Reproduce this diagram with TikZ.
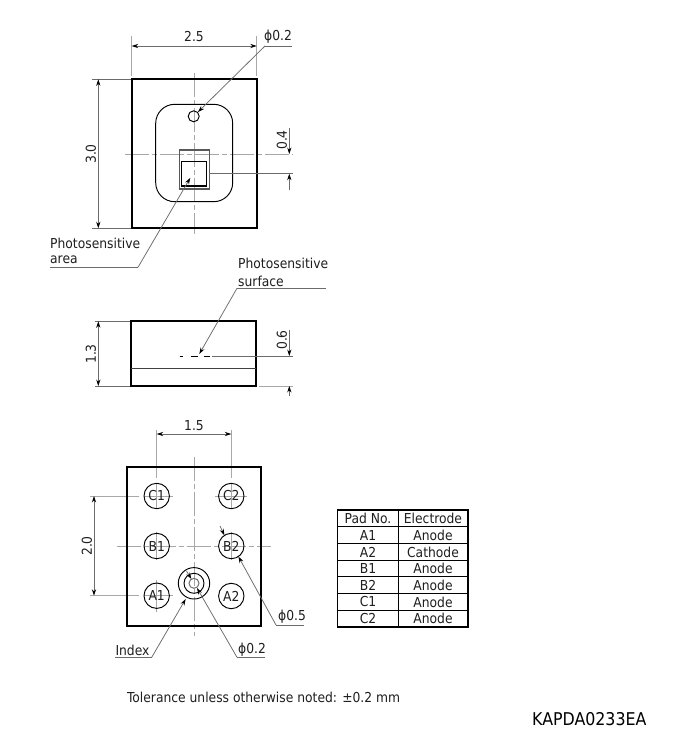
\documentclass[tikz,border=0pt]{standalone}
\usepackage{fontspec}
\setmainfont{DejaVu Sans Condensed}
\usetikzlibrary{arrows.meta}
\definecolor{dimgray}{gray}{0.42}
\definecolor{clgray}{gray}{0.66}
\tikzset{
  body/.style={line width=2pt,black},
  thinline/.style={line width=0.95pt,black},
  dimline/.style={line width=0.75pt,dimgray},
  leader/.style={line width=0.75pt,dimgray,-{Stealth[length=6.5pt,width=4.2pt,black]}},
  dimarrows/.style={line width=0.75pt,dimgray,{Stealth[length=6.5pt,width=4.2pt,black]}-{Stealth[length=6.5pt,width=4.2pt,black]}},
  centerline/.style={line width=1pt,clgray,dash pattern=on 24pt off 3pt on 5pt off 3pt},
  label/.style={font=\fontsize{13.7}{15}\selectfont,text=black!88,inner sep=0pt},
  labelleft/.style={label,anchor=west},
  vlabel/.style={label,rotate=90},
  padlabel/.style={label},
  pad/.style={thinline,circle,minimum size=25.4pt,inner sep=0pt,draw},
  cell/.style={label}
}
\begin{document}
\begin{tikzpicture}[x=1pt,y=-1pt]
\useasboundingbox (0,0) rectangle (675,744);
\fill[white] (0,0) rectangle (675,744);

%% ---------- Top view ----------
\coordinate (tTL) at (131.7,79.3); \coordinate (tBR) at (256.7,228.3);
\draw[centerline] (125,154) -- (293,154);
\draw[centerline] (194,73) -- (194,234);
\draw[body] (tTL) rectangle (tBR);
\draw[thinline,rounded corners=19pt] (155.7,104.3) rectangle (232.7,201.7);
\node[thinline,circle,draw,minimum size=11pt,inner sep=0pt] (lens) at (193.7,116.3) {};
\draw[line width=1.3pt,black!65] (179.3,150) rectangle (209.3,189);
\draw[line width=1.2pt,black] (181.7,161.3) rectangle (206.7,186);
\coordinate (chipR) at (209.3,173.7);

% dim 2.5
\draw[dimline,clgray] (131.7,36) -- (131.7,76);
\draw[dimline,clgray] (256.7,36) -- (256.7,76);
\draw[dimarrows] (131.7,46) -- (256.7,46);
\node[label] (d25) at (194,37) {2.5};
% phi 0.2
\node[label] (phiA) at (278,37) {ϕ0.2};
\coordinate (phiAa) at (265,46);
\draw[dimline] (phiAa) -- (292,46);
\draw[leader] (phiAa) -- (lens.north east);
% dim 3.0
\draw[dimline] (92,79.3) -- (131,79.3);
\draw[dimline] (92,228.3) -- (131,228.3);
\draw[dimarrows] (98.3,79.3) -- (98.3,228.3);
\node[vlabel] (d30) at (91,154) {3.0};
% dim 0.4
\draw[dimline] (chipR) -- (293,173.7);
\draw[leader] (289.3,128) -- (289.3,154);
\draw[leader] (289.3,190) -- (289.3,173.7);
\node[vlabel] (d04) at (282,140) {0.4};
% photosensitive area
\node[labelleft] (pa1) at (50,243) {Photosensitive};
\node[labelleft] (pa2) at (50,260) {area};
\coordinate (paa) at (138,267.3);
\draw[dimline] (50,267.3) -- (paa);
\draw[leader] (paa) -- (190.3,177.8);

%% ---------- Side view ----------
\draw[body] (131.3,321.3) rectangle (256,386);
\draw[line width=1.1pt,black!75] (131.3,368.3) -- (256,368.3);
\draw[line width=1pt,black] (179.5,356) -- (182.7,356);
\draw[line width=1pt,black] (190.7,356) -- (198,356);
\draw[line width=1pt,black] (204,356) -- (209.5,356);
\draw[dimline] (211.7,356) -- (293,356);
\draw[dimline,clgray] (259,386) -- (293,386);
\draw[dimline] (95,321.3) -- (130,321.3);
\draw[dimline] (95,386) -- (130,386);
\draw[dimarrows] (98.3,321.3) -- (98.3,386);
\node[vlabel] (d13) at (91,354) {1.3};
\draw[leader] (289.3,330) -- (289.3,356);
\draw[leader] (289.3,396) -- (289.3,386);
\node[vlabel] (d06) at (282,340) {0.6};
\node[labelleft] (ps1) at (238,263.5) {Photosensitive};
\node[labelleft] (ps2) at (238,281) {surface};
\coordinate (psa) at (237,288.3);
\draw[dimline] (psa) -- (326,288.3);
\draw[leader] (psa) -- (199.3,354);

%% ---------- Bottom view ----------
\draw[centerline] (194,456.7) -- (194,636);
\draw[centerline] (116.7,546) -- (270.7,546);
% pad crosshairs
\draw[dimline,clgray] (156.7,430) -- (156.7,478) (156.7,483) -- (156.7,508);
\draw[dimline,clgray] (231.3,430) -- (231.3,478) (231.3,483) -- (231.3,508);
\draw[dimline,clgray] (90,496) -- (139,496) (144,496) -- (172.7,496);
\draw[dimline,clgray] (215,496) -- (246.7,496);
\draw[dimline,clgray] (90,595.7) -- (139,595.7) (144,595.7) -- (172.7,595.7);
\draw[dimline,clgray] (156.7,580) -- (156.7,611.7);
\draw[dimline,clgray] (156.7,532) -- (156.7,560);
\draw[dimline,clgray] (231.3,532) -- (231.3,560);
\draw[body] (126.7,466.7) rectangle (261.3,626);
\node[pad] (C1) at (156.7,496) {};
\node[pad] (C2) at (231.3,496) {};
\node[pad] (B1) at (156.7,546) {};
\node[pad] (B2) at (231.3,546) {};
\node[pad] (A1) at (156.7,595.7) {};
\node[pad] (A2) at (231.3,596) {};
\node[padlabel] at (C1) {C1};
\node[padlabel] at (C2) {C2};
\node[padlabel] at (B1) {B1};
\node[padlabel] at (B2) {B2};
\node[padlabel] at (A1) {A1};
\node[padlabel] at (A2) {A2};
\node[thinline,circle,draw,minimum size=31.4pt,inner sep=0pt] (ia) at (194,583.3) {};
\node[thinline,circle,draw,minimum size=20pt,inner sep=0pt] (ib) at (194,583.3) {};
\node[line width=0.95pt,dimgray,circle,draw,minimum size=10pt,inner sep=0pt] (ic) at (194,583.3) {};
% dim 1.5
\draw[dimarrows] (156.7,434) -- (231.3,434);
\node[label] (d15) at (194,426) {1.5};
% dim 2.0
\draw[dimarrows] (94,496) -- (94,595.7);
\node[vlabel] (d20) at (87,546) {2.0};
% phi 0.5
\node[label] (phiB) at (292,617) {ϕ0.5};
\coordinate (phiBa) at (276,625);
\draw[dimline] (phiBa) -- (304,625);
\draw[leader] (phiBa) -- (238.4,556.5);
\coordinate (phiBb) at (220,526);
\draw[leader] (phiBb) -- (224.4,535.3);
% phi 0.2
\node[label] (phiC) at (252,650) {ϕ0.2};
\coordinate (phiCa) at (237,657.3);
\draw[dimline] (phiCa) -- (265,657.3);
\draw[leader] (phiCa) -- (197,588);
\coordinate (phiCb) at (186.5,571);
\draw[leader] (phiCb) -- (191.4,579);
% index
\node[label] (idx) at (132.5,650) {Index};
\coordinate (idxa) at (151.7,657.3);
\draw[dimline] (115,657.3) -- (idxa);
\draw[leader] (idxa) -- (185.7,599);

%% ---------- Table ----------
\foreach \y in {526.7,543.4,560.1,576.9,593.6,610.3} \draw[thinline] (337.5,\y) -- (468,\y);
\draw[thinline] (398,510) -- (398,627);
\draw[line width=1.6pt,black] (337.5,510) rectangle (468,627);
\foreach \n/\y/\a/\b in {r0/518.5/Pad No./Electrode,r1/535/A1/Anode,r2/552/A2/Cathode,r3/568.5/B1/Anode,r4/585/B2/Anode,r5/602/C1/Anode,r6/618.5/C2/Anode}{
  \node[cell] (\n a) at (368,\y) {\a};
  \node[cell] (\n b) at (433,\y) {\b};
}

%% ---------- Notes ----------
\node[labelleft] (tol) at (127,697) {Tolerance unless otherwise noted: ±0.2 mm};
\node[labelleft,font=\fontsize{17.6}{19}\selectfont,text=black] (code) at (532,719) {KAPDA0233EA};
\end{tikzpicture}
\end{document}
